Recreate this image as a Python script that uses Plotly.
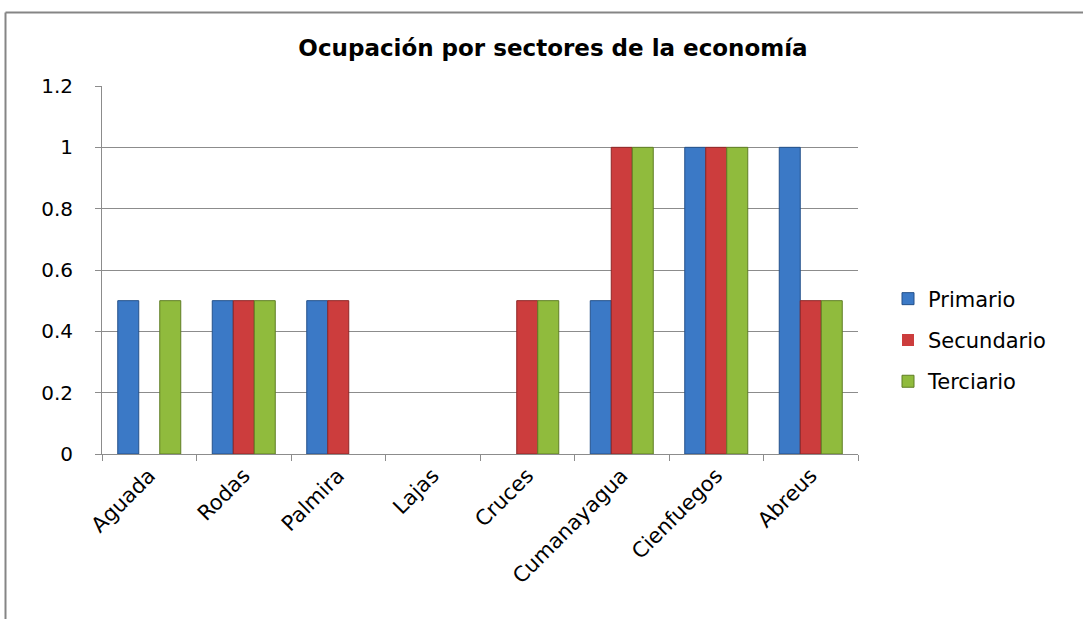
import plotly.graph_objects as go

categories = ["Aguada", "Rodas", "Palmira", "Lajas", "Cruces", "Cumanayagua", "Cienfuegos", "Abreus"]
primario = [0.5, 0.5, 0.5, 0, 0, 0.5, 1, 1]
secundario = [0, 0.5, 0.5, 0, 0.5, 1, 1, 0.5]
terciario = [0.5, 0.5, 0, 0, 0.5, 1, 1, 0.5]
series_names = ["Primario", "Secundario", "Terciario"]
y_ticks = [0, 0.2, 0.4, 0.6, 0.8, 1, 1.2]
y_tick_labels = ["0", "0.2", "0.4", "0.6", "0.8", "1", "1.2"]

fills = ["#3b79c6", "#cc3d3d", "#90bb3d"]
edges = ["#24518a", "#8e2626", "#5f7e25"]

FONT = "DejaVu Sans"

fig = go.Figure()
for name, vals, fc, ec in zip(series_names, [primario, secundario, terciario], fills, edges):
    fig.add_trace(go.Bar(
        x=categories, y=vals, name=name, legendgroup=name,
        marker=dict(color=fc, line=dict(color=ec, width=[1 if v > 0 else 0 for v in vals])),
    ))

W, H = 1083, 619
L, R, T, B = 102, 225, 86, 165
pw, ph = W - L - R, H - T - B

def px_x(p):
    return (p - L) / pw

def px_y(p):
    return (H - B - p) / ph

border = "#858585"
fig.add_shape(type="line", xref="paper", yref="paper",
              x0=px_x(5.5), x1=px_x(1100), y0=px_y(12.5), y1=px_y(12.5),
              line=dict(color=border, width=2))
fig.add_shape(type="line", xref="paper", yref="paper",
              x0=px_x(5.5), x1=px_x(5.5), y0=px_y(12.5), y1=px_y(640),
              line=dict(color=border, width=2))

grid = "#8c8c8c"
fig.update_layout(
    width=W, height=H,
    margin=dict(l=L, r=R, t=T, b=B),
    paper_bgcolor="white", plot_bgcolor="white",
    barmode="group", bargap=1/3, bargroupgap=0,
    font=dict(family=FONT, size=20, color="#000000"),
    title=dict(text="<b>Ocupación por sectores de la economía</b>",
               x=553 / W, xref="container", xanchor="center",
               y=1 - 48 / H, yref="container", yanchor="middle",
               font=dict(family=FONT, size=23, color="#000000")),
    xaxis=dict(
        type="category", tickangle=-45, tickson="boundaries",
        ticks="outside", ticklen=6, tickcolor=grid, tickwidth=1,
        showline=True, linecolor=grid, linewidth=1,
        showgrid=False, tickfont=dict(family=FONT, size=21),
    ),
    yaxis=dict(
        range=[0, 1.2], tickvals=y_ticks, ticktext=y_tick_labels,
        ticks="outside", ticklen=6, tickcolor=grid, tickwidth=1,
        showline=True, linecolor=grid, linewidth=1,
        showgrid=True, gridcolor=grid, gridwidth=1, zeroline=False,
        tickfont=dict(family=FONT, size=20), ticklabelstandoff=18,
    ),
    legend=dict(
        x=px_x(888), xanchor="left", y=px_y(340), yanchor="middle",
        font=dict(family=FONT, size=21), tracegroupgap=11,
        traceorder="grouped", bgcolor="rgba(0,0,0,0)",
    ),
    showlegend=True,
)

fig.write_html("out.html", config={"displayModeBar": False},
               post_script="document.body.style.margin='0px';")
